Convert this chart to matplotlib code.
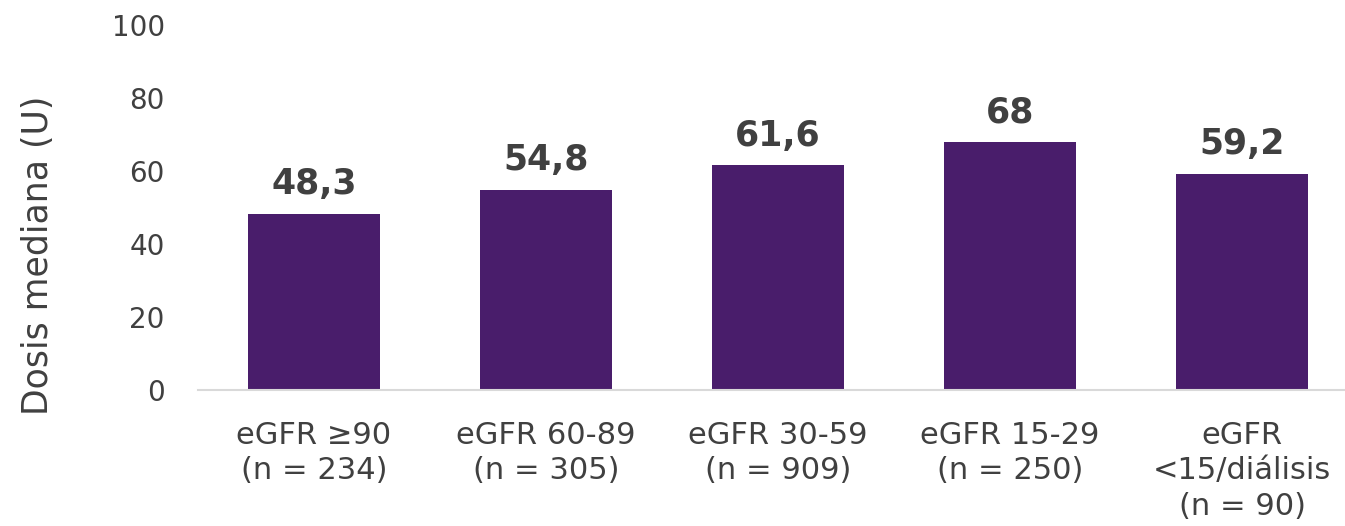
import matplotlib
matplotlib.use('Agg')
import matplotlib.pyplot as plt

categories = ['eGFR ≥90\n(n = 234)', 'eGFR 60-89\n(n = 305)', 'eGFR 30-59\n(n = 909)',
              'eGFR 15-29\n(n = 250)', 'eGFR\n<15/diálisis\n(n = 90)']
values = [48.3, 54.8, 61.6, 68, 59.2]
value_labels = ['48,3', '54,8', '61,6', '68', '59,2']
yticks = [0, 20, 40, 60, 80, 100]

plt.rcParams['font.family'] = ['DejaVu Sans']
text_color = '#404040'
bar_color = '#491d6b'

fig = plt.figure(figsize=(13.45, 5.26), dpi=100)
ax = fig.add_axes([198/1345, 136/526, (1345-198)/1345, 365/526])

x = list(range(len(categories)))
ax.bar(x, values, width=0.57, color=bar_color, zorder=2)

for xi, v, lab in zip(x, values, value_labels):
    ax.annotate(lab, (xi, v), xytext=(0, 9), textcoords='offset points',
                ha='center', va='bottom', fontsize=25, fontweight='bold', color=text_color)

ax.set_xlim(-0.5, 4.5 - 13/232)
ax.set_ylim(0, 100)
ax.set_yticks(yticks)
ax.set_yticklabels([str(t) for t in yticks], fontsize=20, color=text_color)
ax.set_xticks(x)
ax.set_xticklabels(categories, fontsize=22, color=text_color, linespacing=1.3)
ax.tick_params(axis='both', length=0)
ax.tick_params(axis='y', pad=24)
ax.tick_params(axis='x', pad=22)

for s in ['top', 'right', 'left']:
    ax.spines[s].set_visible(False)
ax.spines['bottom'].set_color('#d9d9d9')
ax.spines['bottom'].set_linewidth(1.5)

ax.set_ylabel('Dosis mediana (U)', fontsize=25, color=text_color)
ax.yaxis.set_label_coords(-0.125, 0.37)

fig.savefig('out.png', dpi=100)
